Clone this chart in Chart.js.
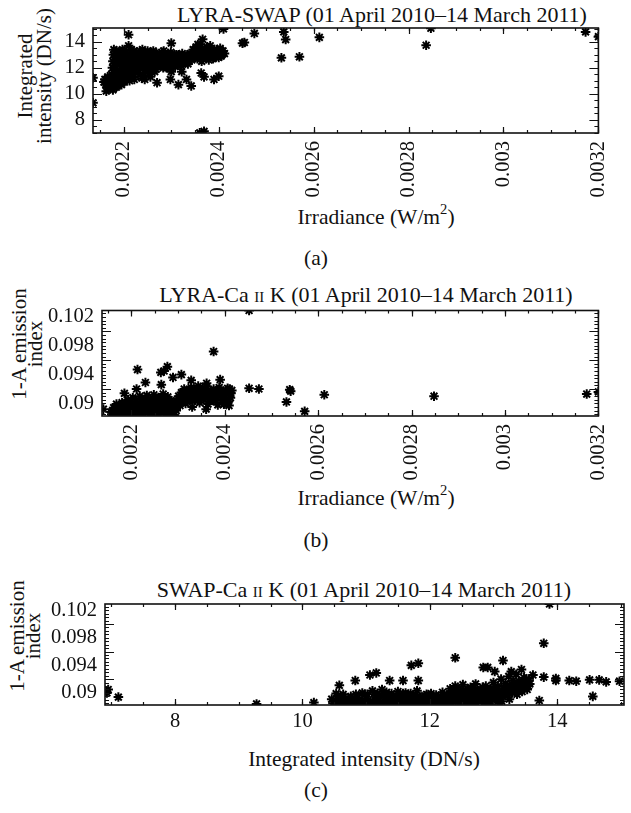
<!DOCTYPE html>
<html><head><meta charset="utf-8">
<script src="https://cdn.jsdelivr.net/npm/chart.js@4.4.0/dist/chart.umd.min.js"></script>
<style>
html,body{margin:0;padding:0;background:#fff;}
body{width:631px;height:813px;position:relative;overflow:hidden;font-family:"Liberation Serif","DejaVu Serif",serif;color:#111;}
canvas{position:absolute;left:0;}
.t{position:absolute;white-space:nowrap;transform:translate(-50%,-50%);font-size:22px;line-height:1;}
.a{font-size:21.5px;}
.r{transform:translate(-50%,-50%) rotate(-90deg);font-size:21px;}
.sc{font-variant:small-caps;}
sup{font-size:0.68em;position:relative;top:-0.1em;line-height:0;vertical-align:super;}
</style></head><body>
<div class="t" style="left:382px;top:15px">LYRA-SWAP (01 April 2010–14 March 2011)</div>
<div class="t" style="left:366px;top:295px">LYRA-Ca <span class="sc">ii</span> K (01 April 2010–14 March 2011)</div>
<div class="t" style="left:364px;top:590px">SWAP-Ca <span class="sc">ii</span> K (01 April 2010–14 March 2011)</div>
<div class="t a" style="left:376px;top:218px">Irradiance (W/m<sup>2</sup>)</div>
<div class="t a" style="left:376px;top:499px">Irradiance (W/m<sup>2</sup>)</div>
<div class="t a" style="left:364px;top:760px">Integrated intensity (DN/s)</div>
<div class="t r" style="left:25px;top:76px">Integrated</div>
<div class="t r" style="left:44px;top:76px">intensity (DN/s)</div>
<div class="t r" style="left:19px;top:344px">1-A emission</div>
<div class="t r" style="left:35px;top:344px">index</div>
<div class="t r" style="left:17px;top:636px">1-A emission</div>
<div class="t r" style="left:33px;top:636px">index</div>
<div class="t a" style="left:316px;top:259px">(a)</div>
<div class="t a" style="left:316px;top:541px">(b)</div>
<div class="t a" style="left:316px;top:791px">(c)</div>
<canvas id="ca" width="631" height="240" style="top:0px"></canvas>
<canvas id="cb" width="631" height="240" style="top:282px"></canvas>
<canvas id="cc" width="631" height="210" style="top:570px"></canvas>
<script>
// ---- tick values and labels ----
const irrTicks = [0.0022, 0.0024, 0.0026, 0.0028, 0.003, 0.0032];
const irrLabels = ["0.0022", "0.0024", "0.0026", "0.0028", "0.003", "0.0032"];
const swapTicks = [8, 10, 12, 14];
const swapLabels = ["8", "10", "12", "14"];
const cakTicks = [0.09, 0.094, 0.098, 0.102];
const cakLabels = ["0.09", "0.094", "0.098", "0.102"];

// ---- (a) LYRA irradiance (W/m2) vs SWAP integrated intensity (DN/s) ----
const lyraSwap = [
 [0.002135,11.23],[0.002135,9.3],
 [0.002158,10.9],[0.002160,11.1],[0.002162,10.7],[0.002165,10.5],[0.002163,10.2],[0.002168,10.8],[0.002170,11.0],[0.002172,10.4],
 [0.002175,10.6],[0.002176,11.2],[0.002178,10.9],[0.002180,10.7],[0.002182,11.3],[0.002184,10.5],[0.002185,11.0],[0.002188,10.8],
 [0.002190,11.4],[0.002192,11.1],[0.002194,10.9],[0.002196,11.5],[0.002198,11.2],[0.002200,11.0],[0.002203,11.3],[0.002166,11.3],[0.002174,11.5],
 [0.002170,10.6],[0.002177,10.3],[0.002186,10.6],[0.002195,10.7],[0.002201,10.9],[0.002206,11.4],[0.002212,11.0],
 [0.002176,12.0],[0.002177,12.5],[0.002178,13.0],[0.002179,13.4],[0.002181,12.2],[0.002182,12.8],[0.002184,13.3],[0.002186,11.8],
 [0.002187,12.6],[0.002189,13.1],[0.002191,12.3],[0.002193,11.6],[0.002195,12.9],[0.002197,13.4],[0.002199,12.1],[0.002201,12.6],
 [0.002203,11.9],[0.002205,13.2],[0.002207,12.4],[0.002209,11.4],[0.002211,12.8],[0.002213,13.0],[0.002215,12.0],[0.002217,12.5],
 [0.002219,11.7],[0.002221,13.3],[0.002223,12.2],[0.002225,12.9],[0.002227,11.9],[0.002229,12.6],[0.002231,13.1],[0.002233,12.3],
 [0.002235,11.5],[0.002237,12.7],[0.002239,13.4],[0.002241,12.0],[0.002243,12.5],[0.002245,11.8],[0.002247,13.0],[0.002249,12.3],
 [0.002251,12.8],[0.002253,11.6],[0.002255,12.1],[0.002257,13.2],[0.002259,12.6],[0.002261,12.0],[0.002263,12.9],[0.002265,11.7],
 [0.002267,12.4],[0.002269,13.1],[0.002190,11.0],[0.002205,11.1],[0.002222,11.1],[0.002238,11.2],[0.002256,11.3],
 [0.002180,11.6],[0.002183,11.9],[0.002186,12.4],[0.002188,13.2],[0.002192,12.7],[0.002194,13.0],[0.002198,12.4],[0.002200,13.3],
 [0.002202,12.0],[0.002206,12.8],[0.002208,11.9],[0.002212,12.3],[0.002214,11.2],[0.002216,13.4],[0.002218,12.7],[0.002220,11.5],
 [0.002224,12.6],[0.002226,13.1],[0.002228,12.0],[0.002230,11.6],[0.002232,12.8],[0.002234,13.3],[0.002236,12.1],[0.002240,12.7],
 [0.002242,11.4],[0.002244,13.1],[0.002246,12.4],[0.002248,11.9],[0.002250,13.3],[0.002252,12.2],[0.002254,12.6],[0.002258,11.9],
 [0.002260,12.8],[0.002262,13.3],[0.002264,12.2],[0.002266,12.6],[0.002268,11.9],
 [0.002271,12.9],[0.002274,12.2],[0.002277,12.7],[0.002280,13.2],[0.002283,12.0],[0.002286,12.6],[0.002289,13.0],[0.002292,12.3],
 [0.002295,12.8],[0.002298,12.0],[0.002301,12.9],[0.002304,12.4],[0.002307,13.0],[0.002310,12.6],[0.002313,12.2],[0.002316,13.0],
 [0.002319,12.6],[0.002322,12.9],[0.002325,12.3],[0.002328,12.7],[0.002331,12.5],[0.002334,13.0],[0.002337,12.5],
 [0.002272,12.5],[0.002275,13.0],[0.002278,12.2],[0.002281,12.8],[0.002284,13.3],[0.002287,12.4],[0.002290,12.0],[0.002293,12.9],
 [0.002296,12.6],[0.002299,13.2],[0.002302,12.3],[0.002305,12.7],[0.002308,12.1],[0.002311,13.0],[0.002314,12.5],[0.002317,12.8],
 [0.002320,12.2],[0.002323,13.1],[0.002326,12.6],[0.002329,12.4],[0.002332,12.9],[0.002335,12.3],[0.002338,12.7],
 [0.002340,13.1],[0.002343,12.6],[0.002346,13.4],[0.002349,12.9],[0.002352,13.6],[0.002355,12.7],[0.002358,13.2],[0.002361,13.8],
 [0.002364,12.5],[0.002367,13.0],[0.002370,13.5],[0.002373,12.8],[0.002376,13.3],[0.002379,12.6],[0.002382,13.7],[0.002385,13.0],
 [0.002388,12.7],[0.002391,13.4],[0.002394,12.9],[0.002397,13.2],[0.002400,12.8],[0.002403,13.5],[0.002406,13.0],[0.002409,13.3],[0.002412,13.1],
 [0.002342,12.9],[0.002345,13.0],[0.002348,13.2],[0.002351,12.8],[0.002354,13.3],[0.002357,12.9],[0.002360,13.4],[0.002363,13.1],
 [0.002366,12.8],[0.002369,13.3],[0.002372,13.0],[0.002375,13.6],[0.002378,13.1],[0.002381,12.9],[0.002384,13.3],[0.002387,13.1],
 [0.002390,12.8],[0.002393,13.1],[0.002396,13.4],[0.002399,13.0],[0.002402,13.2],[0.002405,12.9],[0.002408,13.1],
 [0.002210,14.55],[0.002210,13.7],[0.002300,13.9],[0.002366,14.2],[0.002356,13.8],[0.002410,15.0],[0.002450,13.9],[0.002454,13.95],[0.002475,14.65],
 [0.002270,10.85],[0.002298,11.1],[0.002300,11.7],[0.002322,11.7],[0.002315,10.7],[0.002332,11.1],[0.002342,10.6],[0.002363,11.6],
 [0.002369,11.3],[0.002390,11.1],[0.002400,11.35],[0.002244,11.1],[0.002369,7.1],[0.002360,6.98],
 [0.002532,12.77],[0.002537,14.77],[0.002541,14.18],[0.002570,12.85],[0.002612,14.35],[0.002847,15.05],[0.002837,13.74],[0.003173,14.77],[0.003200,14.4]
];

// ---- (b) LYRA irradiance (W/m2) vs Ca II K 1-A emission index ----
const lyraCak = [
 [0.002140,0.0892],
 [0.002158,0.0885],[0.002160,0.0890],[0.002162,0.0894],[0.002165,0.0887],[0.002168,0.0899],[0.002170,0.0884],[0.002172,0.0892],
 [0.002175,0.0896],[0.002178,0.0888],[0.002180,0.0901],[0.002182,0.0884],[0.002185,0.0893],[0.002188,0.0897],[0.002190,0.0889],
 [0.002193,0.0905],[0.002195,0.0885],[0.002198,0.0899],[0.002200,0.0892],[0.002203,0.0908],[0.002205,0.0887],[0.002208,0.0895],
 [0.002210,0.0902],[0.002213,0.0884],[0.002215,0.0890],[0.002218,0.0910],[0.002220,0.0897],[0.002223,0.0886],[0.002225,0.0904],
 [0.002228,0.0893],[0.002230,0.0888],[0.002233,0.0911],[0.002235,0.0899],[0.002238,0.0885],[0.002240,0.0906],[0.002243,0.0894],
 [0.002245,0.0889],[0.002248,0.0912],[0.002250,0.0901],[0.002253,0.0884],[0.002255,0.0896],[0.002258,0.0908],[0.002260,0.0890],
 [0.002263,0.0887],[0.002265,0.0903],[0.002268,0.0913],[0.002270,0.0895],[0.002273,0.0885],[0.002275,0.0900],[0.002278,0.0909],
 [0.002280,0.0891],[0.002283,0.0887],[0.002285,0.0904],[0.002288,0.0896],[0.002290,0.0884],[0.002293,0.0901],[0.002296,0.0890],
 [0.002157,0.0888],[0.002161,0.0884],[0.002166,0.0891],[0.002169,0.0895],[0.002173,0.0886],[0.002177,0.0890],[0.002181,0.0895],
 [0.002184,0.0887],[0.002187,0.0901],[0.002191,0.0894],[0.002194,0.0898],[0.002197,0.0887],[0.002201,0.0896],[0.002204,0.0891],
 [0.002207,0.0900],[0.002211,0.0887],[0.002214,0.0897],[0.002217,0.0893],[0.002221,0.0906],[0.002224,0.0891],[0.002227,0.0899],
 [0.002231,0.0894],[0.002234,0.0902],[0.002237,0.0890],[0.002241,0.0898],[0.002244,0.0886],[0.002247,0.0903],[0.002251,0.0893],
 [0.002254,0.0907],[0.002257,0.0888],[0.002261,0.0899],[0.002264,0.0893],[0.002267,0.0906],[0.002271,0.0889],[0.002274,0.0903],
 [0.002277,0.0895],[0.002281,0.0898],[0.002284,0.0892],[0.002287,0.0884],[0.002291,0.0897],[0.002294,0.0893],
 [0.002298,0.0902],[0.002301,0.0910],[0.002304,0.0897],[0.002307,0.0915],[0.002310,0.0905],[0.002313,0.0920],[0.002316,0.0900],
 [0.002319,0.0912],[0.002322,0.0918],[0.002325,0.0907],[0.002328,0.0922],[0.002331,0.0903],[0.002334,0.0914],[0.002337,0.0919],
 [0.002340,0.0909],[0.002343,0.0924],[0.002346,0.0901],[0.002349,0.0916],[0.002352,0.0921],[0.002355,0.0906],[0.002358,0.0913],
 [0.002361,0.0923],[0.002364,0.0899],[0.002367,0.0911],[0.002370,0.0918],[0.002373,0.0904],[0.002376,0.0920],[0.002379,0.0908],
 [0.002382,0.0915],[0.002385,0.0898],[0.002388,0.0922],[0.002391,0.0910],[0.002394,0.0905],[0.002397,0.0917],[0.002400,0.0900],
 [0.002403,0.0913],[0.002406,0.0921],[0.002409,0.0897],[0.002412,0.0908],[0.002415,0.0918],
 [0.002300,0.0906],[0.002305,0.0901],[0.002309,0.0911],[0.002314,0.0908],[0.002318,0.0904],[0.002323,0.0913],[0.002327,0.0916],
 [0.002332,0.0909],[0.002336,0.0905],[0.002341,0.0917],[0.002345,0.0912],[0.002350,0.0907],[0.002354,0.0918],[0.002359,0.0908],
 [0.002363,0.0915],[0.002368,0.0905],[0.002372,0.0912],[0.002377,0.0914],[0.002381,0.0904],[0.002386,0.0911],[0.002390,0.0917],
 [0.002395,0.0912],[0.002399,0.0907],[0.002404,0.0917],[0.002408,0.0903],[0.002413,0.0914],
 [0.002213,0.0947],[0.002230,0.0929],[0.002211,0.0920],[0.002185,0.0914],[0.002264,0.0926],[0.002263,0.0943],[0.002277,0.0951],
 [0.002270,0.0945],[0.002289,0.0936],[0.002307,0.0940],[0.002328,0.0932],[0.002376,0.0972],[0.002390,0.0933],[0.002361,0.0928],
 [0.002410,0.0920],[0.002330,0.0895],[0.002360,0.0892],[0.002398,0.0899],[0.002452,0.0921],[0.002473,0.0920],[0.002452,0.1029],
 [0.002539,0.0919],[0.002541,0.0917],[0.002532,0.0902],[0.002571,0.0889],[0.002613,0.0912],[0.002848,0.0910],[0.003175,0.0913],[0.003200,0.0916]
];

// ---- (c) SWAP integrated intensity (DN/s) vs Ca II K 1-A emission index ----
const swapCak = [
 [6.95,0.0905],[6.93,0.0900],[7.11,0.0894],[9.28,0.0884],[10.18,0.0886],[10.53,0.0899],
 [10.48,0.0885],[10.55,0.0892],[10.62,0.0887],[10.70,0.0884],[10.76,0.0895],[10.82,0.0889],[10.88,0.0884],[10.94,0.0900],
 [11.00,0.0892],[11.05,0.0886],[11.10,0.0903],[11.15,0.0896],[11.20,0.0888],[11.25,0.0905],[11.30,0.0893],[11.35,0.0885],
 [11.40,0.0899],[11.45,0.0890],[11.50,0.0902],[11.55,0.0887],[11.60,0.0896],[11.65,0.0891],[11.70,0.0899],[11.75,0.0886],
 [11.80,0.0903],[11.85,0.0894],[11.90,0.0889],[11.95,0.0898],[12.00,0.0892],[12.05,0.0885],[12.10,0.0897],[12.15,0.0890],
 [12.20,0.0901],[12.25,0.0888],[12.28,0.0896],[12.32,0.0906],[12.36,0.0891],[12.40,0.0910],[12.44,0.0900],[12.48,0.0886],
 [12.52,0.0912],[12.56,0.0903],[12.60,0.0894],[12.64,0.0908],[12.68,0.0889],[12.72,0.0913],[12.76,0.0899],[12.80,0.0905],
 [12.84,0.0891],[12.88,0.0910],[12.92,0.0902],[12.96,0.0887],[13.00,0.0915],[13.04,0.0906],[13.08,0.0896],[13.12,0.0920],
 [13.16,0.0909],[13.20,0.0899],[13.24,0.0924],[13.28,0.0913],[13.32,0.0904],[13.36,0.0927],[13.40,0.0917],[13.44,0.0908],
 [13.48,0.0922],[13.52,0.0912],[13.56,0.0918],[12.30,0.0884],[12.50,0.0885],[12.70,0.0884],[12.90,0.0886],[13.10,0.0885],
 [11.00,0.0884],[11.60,0.0884],
 [10.52,0.0888],[10.60,0.0895],[10.66,0.0884],[10.73,0.0890],[10.80,0.0886],[10.86,0.0893],[10.92,0.0887],[10.98,0.0897],
 [11.03,0.0889],[11.08,0.0884],[11.13,0.0891],[11.18,0.0899],[11.23,0.0886],[11.28,0.0897],[11.33,0.0889],[11.38,0.0894],
 [11.43,0.0885],[11.48,0.0895],[11.53,0.0891],[11.58,0.0899],[11.63,0.0887],[11.68,0.0894],[11.73,0.0890],[11.78,0.0897],
 [11.83,0.0887],[11.88,0.0893],[11.93,0.0885],[11.98,0.0895],[12.03,0.0889],[12.08,0.0892],[12.13,0.0886],[12.18,0.0895],
 [12.23,0.0892],[12.27,0.0887],[12.31,0.0899],[12.35,0.0902],[12.39,0.0894],[12.43,0.0905],[12.47,0.0896],[12.51,0.0889],
 [12.55,0.0898],[12.59,0.0906],[12.63,0.0888],[12.67,0.0899],[12.71,0.0904],[12.75,0.0893],[12.79,0.0897],[12.83,0.0908],
 [12.87,0.0887],[12.91,0.0895],[12.95,0.0906],[12.99,0.0892],[13.03,0.0899],[13.07,0.0910],[13.11,0.0893],[13.15,0.0902],
 [13.19,0.0914],[13.23,0.0897],[13.27,0.0906],[13.31,0.0918],[13.35,0.0911],[13.39,0.0903],[13.43,0.0914],[13.47,0.0908],
 [13.51,0.0920],[13.55,0.0910],
 [10.46,0.0891],[10.57,0.0884],[10.64,0.0898],[10.68,0.0892],[10.78,0.0884],[10.84,0.0898],[10.90,0.0891],[10.96,0.0885],
 [11.02,0.0898],[11.11,0.0887],[11.17,0.0884],[11.21,0.0895],[11.27,0.0885],[11.32,0.0901],[11.41,0.0887],[11.47,0.0884],
 [11.52,0.0896],[11.57,0.0884],[11.62,0.0900],[11.67,0.0885],[11.72,0.0895],[11.77,0.0884],[11.82,0.0892],[11.87,0.0884],
 [11.92,0.0896],[11.97,0.0887],[12.02,0.0899],[12.07,0.0884],[12.12,0.0894],[12.17,0.0884],[12.22,0.0897],[12.26,0.0893],
 [12.33,0.0887],[12.37,0.0898],[12.41,0.0887],[12.45,0.0893],[12.49,0.0903],[12.53,0.0894],[12.57,0.0886],[12.61,0.0900],
 [12.65,0.0895],[12.69,0.0907],[12.73,0.0889],[12.77,0.0903],[12.81,0.0888],[12.85,0.0900],[12.89,0.0894],[12.93,0.0884],
 [12.97,0.0898],[13.01,0.0905],[13.05,0.0890],[13.09,0.0903],[13.13,0.0888],[13.17,0.0897],[13.21,0.0907],[13.25,0.0891],
 [13.29,0.0900],[13.33,0.0912],[13.37,0.0898],[13.41,0.0910],[13.45,0.0902],[13.49,0.0915],[13.53,0.0905],[13.57,0.0913],
 [10.58,0.0911],[10.83,0.0918],[11.06,0.0926],[11.16,0.0929],[11.37,0.0918],[11.58,0.0918],[11.71,0.0940],[11.82,0.0943],
 [11.82,0.0918],[12.40,0.0951],[12.84,0.0937],[12.91,0.0937],[13.02,0.0931],[13.15,0.0947],[13.28,0.0931],[13.44,0.0934],
 [13.62,0.0926],[13.79,0.0923],[13.79,0.0972],[13.88,0.1029],[13.98,0.0921],[13.98,0.0918],[14.19,0.0918],[14.30,0.0917],
 [14.51,0.0919],[14.66,0.0919],[14.77,0.0916],[14.98,0.0917],[13.72,0.0889],[14.56,0.0895],[13.07,0.0888]
];

const FONT = "'Liberation Serif', 'DejaVu Serif', serif";
const INK = '#111';

// frame with inward major/minor ticks on all four sides (IDL style)
const frameTicks = {
  id: 'frameTicks',
  afterDatasetsDraw(chart, args, o) {
    const {ctx, chartArea: a, scales: {x, y}} = chart;
    ctx.save();
    ctx.strokeStyle = INK;
    ctx.lineWidth = 1.2;
    const ticksX = (step, len) => {
      const n0 = Math.ceil(x.min / step - 1e-6), n1 = Math.floor(x.max / step + 1e-6);
      for (let n = n0; n <= n1; n++) {
        const p = Math.round(x.getPixelForValue(n * step)) + 0.5;
        ctx.beginPath();
        ctx.moveTo(p, a.bottom); ctx.lineTo(p, a.bottom - len);
        ctx.moveTo(p, a.top); ctx.lineTo(p, a.top + len);
        ctx.stroke();
      }
    };
    const ticksY = (step, len) => {
      const n0 = Math.ceil(y.min / step - 1e-6), n1 = Math.floor(y.max / step + 1e-6);
      for (let n = n0; n <= n1; n++) {
        const p = Math.round(y.getPixelForValue(n * step)) + 0.5;
        ctx.beginPath();
        ctx.moveTo(a.left, p); ctx.lineTo(a.left + len, p);
        ctx.moveTo(a.right, p); ctx.lineTo(a.right - len, p);
        ctx.stroke();
      }
    };
    ticksX(o.xMinor, 3); ticksX(o.xMajor, 6);
    ticksY(o.yMinor, 4); ticksY(o.yMajor, 9);
    ctx.lineWidth = 1.6;
    ctx.strokeRect(a.left, a.top, a.right - a.left, a.bottom - a.top);
    ctx.restore();
  }
};

function makeChart(id, p) {
  return new Chart(document.getElementById(id), {
    type: 'scatter',
    data: {datasets: [{
      data: p.points.map(d => ({x: d[0], y: d[1]})),
      pointStyle: 'star', radius: 4.8, borderWidth: 2,
      borderColor: '#000', backgroundColor: '#000', clip: 0
    }]},
    options: {
      responsive: false, animation: false, devicePixelRatio: 1,
      layout: {padding: {left: 0, top: p.T, right: 631 - p.R, bottom: p.canvasH - p.B - p.xH}},
      plugins: {legend: {display: false}, tooltip: {enabled: false},
        frameTicks: {xMinor: p.xMinor, xMajor: p.xMajor, yMinor: p.yMinor, yMajor: p.yMajor}},
      scales: {
        x: {
          type: 'linear', min: p.xMin, max: p.xMax,
          afterBuildTicks: s => { s.ticks = p.xTicks.map(v => ({value: v})); },
          afterFit: s => { s.height = p.xH; },
          grid: {display: false, drawTicks: false}, border: {display: false},
          ticks: {autoSkip: false, minRotation: p.xRot, maxRotation: p.xRot, padding: p.xPad,
            color: INK, font: {family: FONT, size: 20.5},
            callback: (v, i) => p.xLabels[i]},
          title: {display: false}
        },
        y: {
          type: 'linear', min: p.yMin, max: p.yMax,
          afterBuildTicks: s => { s.ticks = p.yTicks.map(v => ({value: v})); },
          afterFit: s => { s.width = p.L; },
          grid: {display: false, drawTicks: false}, border: {display: false},
          ticks: {autoSkip: false, padding: 8, color: INK, font: {family: FONT, size: 20.5},
            callback: (v, i) => p.yLabels[i]},
          title: {display: false}
        }
      }
    },
    plugins: [frameTicks]
  });
}

makeChart('ca', {
  points: lyraSwap, canvasH: 240, T: 28, B: 133, L: 93, R: 617, xH: 100,
  xMin: 0.002135, xMax: 0.0032, xTicks: irrTicks, xLabels: irrLabels, xRot: 90, xPad: 8,
  xMinor: 0.00005, xMajor: 0.0002,
  yMin: 6.97, yMax: 15.07, yTicks: swapTicks, yLabels: swapLabels, yMinor: 0.5, yMajor: 2
});
makeChart('cb', {
  points: lyraCak, canvasH: 240, T: 28.5, B: 134, L: 102, R: 623, xH: 100,
  xMin: 0.002137, xMax: 0.0032, xTicks: irrTicks, xLabels: irrLabels, xRot: 90, xPad: 8,
  xMinor: 0.00005, xMajor: 0.0002,
  yMin: 0.08825, yMax: 0.1029, yTicks: cakTicks, yLabels: cakLabels, yMinor: 0.0005, yMajor: 0.004
});
makeChart('cc', {
  points: swapCak, canvasH: 210, T: 34, B: 135, L: 105, R: 624, xH: 70,
  xMin: 6.9, xMax: 15.05, xTicks: swapTicks, xLabels: swapLabels, xRot: 0, xPad: 4,
  xMinor: 0.5, xMajor: 2,
  yMin: 0.08825, yMax: 0.1029, yTicks: cakTicks, yLabels: cakLabels, yMinor: 0.0005, yMajor: 0.004
});
</script>
</body></html>
